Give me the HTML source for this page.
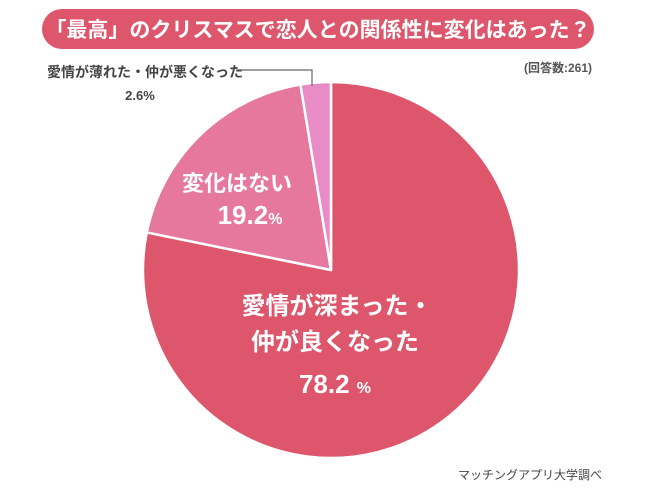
<!DOCTYPE html>
<html><head><meta charset="utf-8"><style>
body{margin:0;background:#fff;}
svg{display:block;font-family:"Liberation Sans","Noto Sans CJK JP",sans-serif;}
</style></head><body>
<svg width="650" height="493" viewBox="0 0 650 493">
<rect x="0" y="0" width="650" height="493" fill="#fff"/>
<rect x="42" y="9" width="552" height="40" rx="20" fill="#dd566b"/>
<text x="318" y="37" text-anchor="middle" font-size="21" font-weight="bold" fill="#fff">「最高」のクリスマスで恋人との関係性に変化はあった？</text>
<text x="592" y="72" text-anchor="end" font-size="12" font-weight="bold" fill="#555">(回答数:261)</text>
<g id="slices"></g>
<polyline points="236,70 312,70 312,86" fill="none" stroke="#666" stroke-width="1.2"/>
<text x="47" y="77" font-size="14" font-weight="bold" fill="#444">愛情が薄れた・仲が悪くなった</text>
<text x="140" y="100" text-anchor="middle" font-size="13" font-weight="bold" fill="#444">2.6%</text>
<text x="237" y="191" text-anchor="middle" font-size="22" font-weight="bold" fill="#fff">変化はない</text>
<text x="250" y="224" text-anchor="middle" font-size="26" font-weight="bold" fill="#fff">19.2<tspan font-size="16">%</tspan></text>
<text x="337" y="314" text-anchor="middle" font-size="24" font-weight="bold" fill="#fff">愛情が深まった・</text>
<text x="335" y="350" text-anchor="middle" font-size="24" font-weight="bold" fill="#fff">仲が良くなった</text>
<text x="335" y="393" text-anchor="middle" font-size="26" font-weight="bold" fill="#fff">78.2 <tspan font-size="16">%</tspan></text>
<text x="602" y="479" text-anchor="end" font-size="12" fill="#444">マッチングアプリ大学調べ</text>
</svg>
<script>
const categories=["愛情が深まった・仲が良くなった","変化はない","愛情が薄れた・仲が悪くなった"];
const values=[78.2,19.2,2.6];
const colors=["#dd566b","#e6779d","#e88bc6"];
const cx=331,cy=270,r=188;
const g=document.getElementById('slices');
const total=values.reduce((a,b)=>a+b,0);
let a0=0;
values.forEach((v,i)=>{
  const a1=a0+v/total*2*Math.PI;
  const x0=cx+r*Math.sin(a0),y0=cy-r*Math.cos(a0);
  const x1=cx+r*Math.sin(a1),y1=cy-r*Math.cos(a1);
  const large=(a1-a0)>Math.PI?1:0;
  const p=document.createElementNS('http://www.w3.org/2000/svg','path');
  p.setAttribute('d',`M${cx},${cy} L${x0},${y0} A${r},${r} 0 ${large} 1 ${x1},${y1} Z`);
  p.setAttribute('fill',colors[i]);
  p.setAttribute('stroke','#fff');
  p.setAttribute('stroke-width','2.5');
  p.setAttribute('stroke-linejoin','round');
  
  
  g.appendChild(p);
  a0=a1;
});
</script>
</body></html>
